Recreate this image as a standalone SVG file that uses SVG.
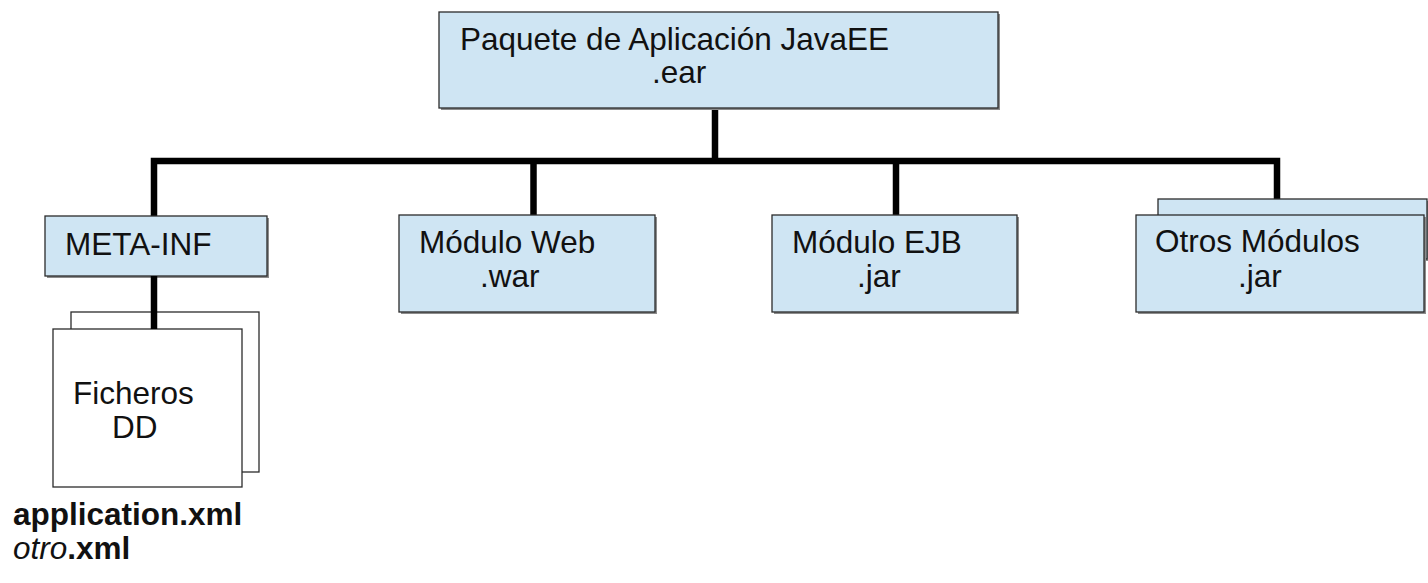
<svg xmlns="http://www.w3.org/2000/svg" width="1428" height="583" viewBox="0 0 1428 583">
<style>
.box{fill:#cfe5f3;stroke:#2b2b2b;stroke-width:1.3}
.doc{fill:#ffffff;stroke:#2b2b2b;stroke-width:1.3}
.sh{fill:#8c8c8c}
.t{font-family:"Liberation Sans",Arial,sans-serif;font-size:31.5px;fill:#111}
.b{font-weight:bold}
.i{font-style:italic;font-weight:normal}
.con{fill:none;stroke:#000;stroke-width:6.5;stroke-linejoin:miter;stroke-linecap:butt}
</style>
<rect width="1428" height="583" fill="#ffffff"/>
<g id="connectors">
<polyline class="con" points="154,216 154,161 1277,161 1277,215"/>
<line class="con" x1="715" y1="108" x2="715" y2="161"/>
<line class="con" x1="533.5" y1="161" x2="533.5" y2="215"/>
<line class="con" x1="896" y1="161" x2="896" y2="215"/>
</g>
<g id="node-ear">
<rect class="sh" x="441" y="14" width="559" height="96"/>
<rect class="box" x="439" y="12" width="559" height="96"/>
<text class="t" x="460" y="50">Paquete de Aplicación JavaEE</text>
<text class="t" x="652" y="83">.ear</text>
</g>
<g id="node-metainf">
<rect class="sh" x="47" y="218" width="222" height="60"/>
<rect class="box" x="45" y="216" width="222" height="60"/>
<text class="t" x="65" y="255">META-INF</text>
</g>
<g id="node-web">
<rect class="sh" x="401" y="217" width="256" height="97"/>
<rect class="box" x="399" y="215" width="256" height="97"/>
<text class="t" x="419" y="253">Módulo Web</text>
<text class="t" x="480" y="287">.war</text>
</g>
<g id="node-ejb">
<rect class="sh" x="774" y="217" width="245" height="97"/>
<rect class="box" x="772" y="215" width="245" height="97"/>
<text class="t" x="792" y="253">Módulo EJB</text>
<text class="t" x="857" y="287">.jar</text>
</g>
<g id="node-otros">
<rect class="sh" x="1160" y="201" width="270" height="60"/>
<rect class="box" x="1158" y="199" width="269" height="60"/>
<rect class="sh" x="1138" y="217" width="288" height="97"/>
<rect class="box" x="1136" y="215" width="288" height="97"/>
<text class="t" x="1155" y="252">Otros Módulos</text>
<text class="t" x="1238" y="287">.jar</text>
</g>
<g id="node-ficheros">
<rect class="doc" x="71" y="312" width="188" height="160"/>
<rect class="doc" x="53" y="329" width="189" height="158"/>
<line class="con" x1="154" y1="276" x2="154" y2="329"/>
<text class="t" x="73" y="404">Ficheros</text>
<text class="t" x="112" y="438">DD</text>
</g>
<g id="labels">
<text class="t b" x="13" y="525">application.xml</text>
<text class="t b" x="13" y="559"><tspan class="i">otro</tspan>.xml</text>
</g>
</svg>
